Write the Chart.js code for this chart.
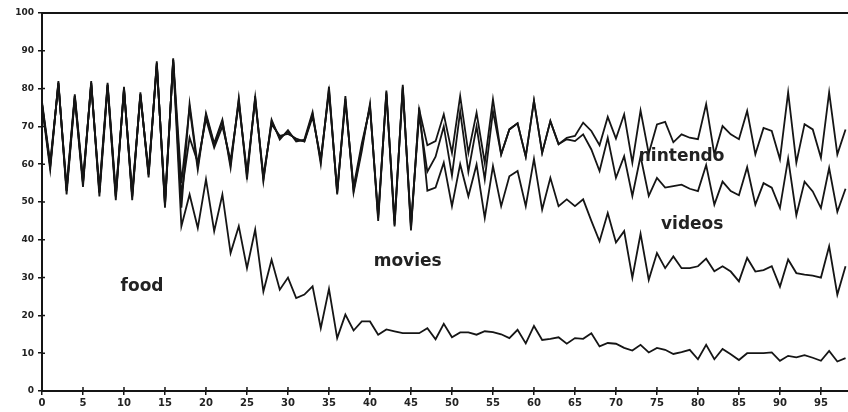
<!DOCTYPE html>
<html>
<head>
<meta charset="utf-8">
<script src="https://cdn.jsdelivr.net/npm/chart.js@4.4.1/dist/chart.umd.min.js"></script>
<style>
  html, body { margin: 0; background: #fff; }
  #wrap { width: 848px; height: 412px; }
</style>
</head>
<body>
<div id="wrap"><canvas id="chart"></canvas></div>
<script>
// sessions 0..98
const sessions = Array.from({ length: 99 }, (_, i) => i);

const food = [
  76, 59.5, 81.5, 53, 78, 55, 81.5, 52.5, 81, 51.5, 80, 51.5, 78.5, 57.3, 86.7, 49.3, 87.6,
  43.6, 52, 43.1, 56, 42.3, 52, 36.5, 43.6, 32.5, 42.7, 26.3, 34.7, 26.8, 30,
  24.6, 25.5, 27.7, 16.6, 27, 14, 20.2, 16, 18.4, 18.4,
  14.9, 16.3, 15.8, 15.3, 15.3, 15.3, 16.6, 13.7, 17.8, 14.2,
  15.5, 15.5, 14.9, 15.8, 15.6, 15, 14, 16.2, 12.6, 17.2,
  13.5, 13.8, 14.2, 12.5, 14, 13.8, 15.3, 11.8, 12.7, 12.5,
  11.4, 10.7, 12.2, 10.2, 11.4, 10.9, 9.8, 10.3, 10.9, 8.4,
  12.2, 8.4, 11.1, 9.7, 8.2, 10, 10, 10, 10.2, 8,
  9.3, 8.9, 9.5, 8.8, 8, 10.6, 7.8, 8.7
];

const nintendo = [
  76, 59.5, 81.5, 53, 78, 55, 81.5, 52.5, 81, 51.5, 80, 51.5, 78.5, 57.3, 86.7, 49.3, 87.6,
  48.5, 76, 59.5, 73, 65, 71.3, 60, 77, 57, 77.6, 56, 71.3, 67, 68.5, 66.4, 66.1, 73.2,
  60.8, 79.8, 52.4, 77.3, 53, 64.5, 75.4, 45.8, 79, 44, 80.5, 43.1, 74.5, 65,
  66.1, 73.2, 63, 78, 63, 73.6, 60.4, 77.2, 62.6, 69.2, 70.8, 62, 76.8, 63, 71.4,
  65.3, 67, 67.5, 71, 68.8, 65, 72.5, 66.8, 73.2, 60.4, 74.2, 62.8,
  70.5, 71.2, 65.8, 67.9, 67, 66.6, 75.9, 62.6, 70.1, 67.9, 66.6, 74.1,
  62.6, 69.6, 68.8, 61.3, 79, 60.4, 70.6, 69.2, 61.7, 79, 62.6, 69.2
];

const videos = [
  76.5, 60.5, 81, 54, 78.5, 56, 81, 53.5, 81.5, 52.5, 79.5, 52.5, 78, 58, 86, 50.5, 87,
  52, 67, 60.5, 72, 64.4, 70, 61, 76, 58, 77, 57, 70.5, 67.5, 68, 66.8, 66, 72.5,
  61.5, 79, 53, 76.5, 54, 65.5, 75, 46.5, 78.5, 45, 80, 44, 73, 58,
  62, 70, 57, 74, 58, 70, 56, 74, 62.6, 69.2, 70.8, 62, 76.8, 63, 71.4, 65.3,
  66.6, 66.1, 67.9, 63.9, 58.2, 67, 56.4, 62.1, 51.6, 62.1, 51.6, 56.4,
  53.8, 54.2, 54.6, 53.5, 52.9, 59.8, 49.3, 55.4, 52.9, 51.8, 59.2, 49.3,
  55, 53.8, 48.4, 61.5, 46.5, 55.4, 52.8, 48.4, 59, 47.4, 53.5
];

const movies = [
  75.5, 58.5, 82, 52, 77.5, 54, 82, 51.5, 80.5, 50.5, 80.5, 50.5, 79, 56.5, 87.2, 48.5, 88,
  55, 75, 58.5, 73.5, 65.5, 71.8, 59, 77.5, 56, 78, 55.5, 71.8, 66.5, 69, 66, 66.5, 73.8,
  60, 80.5, 52, 78, 52.5, 63.5, 76, 45, 79.5, 43.5, 81, 42.5, 75, 53,
  53.8, 60.4, 48.9, 60, 51.5, 59.9, 45.8, 59.5, 48.9, 56.8, 58.2, 48.9, 61.4, 48, 56.4, 48.9,
  50.7, 48.9, 50.7, 45, 39.6, 47.1, 39.3, 42.3, 30, 41.6, 29.4, 36.5,
  32.5, 35.6, 32.5, 32.5, 33, 35, 31.7, 33, 31.6, 29, 35.2, 31.6,
  32, 33, 27.6, 34.8, 31.2, 30.8, 30.5, 30, 38.3, 25.5, 33
];

const seriesLabels = [
  { text: "food", x: 12.2, y: 27.7 },
  { text: "movies", x: 44.6, y: 34.2 },
  { text: "nintendo", x: 78, y: 62 },
  { text: "videos", x: 79.3, y: 44 }
];

const ink = "#151515";

function toPoints(values) {
  return sessions.map((s, i) => ({ x: s, y: values[i] }));
}

const decorations = {
  id: "decorations",
  afterDatasetsDraw(chart) {
    const { ctx, chartArea, scales } = chart;
    const x = scales.x, y = scales.y;
    ctx.save();
    ctx.strokeStyle = ink;
    // top frame line at 100
    ctx.lineWidth = 2;
    ctx.beginPath();
    ctx.moveTo(chartArea.left, y.getPixelForValue(100));
    ctx.lineTo(chartArea.right, y.getPixelForValue(100));
    ctx.stroke();
    // tick marks crossing into the plot
    ctx.lineWidth = 1.5;
    ctx.beginPath();
    x.ticks.forEach((t) => {
      const px = x.getPixelForValue(t.value);
      ctx.moveTo(px, chartArea.bottom);
      ctx.lineTo(px, chartArea.bottom - 4);
    });
    y.ticks.forEach((t) => {
      const py = y.getPixelForValue(t.value);
      ctx.moveTo(chartArea.left, py);
      ctx.lineTo(chartArea.left + 3, py);
    });
    ctx.stroke();
    // series names
    ctx.font = 'bold 17px "DejaVu Sans"';
    ctx.fillStyle = "#222";
    ctx.textAlign = "center";
    ctx.textBaseline = "middle";
    seriesLabels.forEach((l) => {
      ctx.fillText(l.text, x.getPixelForValue(l.x), y.getPixelForValue(l.y));
    });
    ctx.restore();
  }
};

function lineSet(label, values) {
  return {
    label,
    data: toPoints(values),
    borderColor: ink,
    borderWidth: 1.8,
    pointRadius: 0,
    tension: 0,
    fill: false
  };
}

new Chart(document.getElementById("chart"), {
  type: "line",
  data: {
    datasets: [
      lineSet("food", food),
      lineSet("movies", movies),
      lineSet("nintendo", nintendo),
      lineSet("videos", videos)
    ]
  },
  options: {
    responsive: true,
    maintainAspectRatio: false,
    animation: false,
    layout: { padding: { top: 13, right: 0, left: 0, bottom: 0 } },
    plugins: {
      legend: { display: false },
      tooltip: { enabled: false }
    },
    scales: {
      x: {
        type: "linear",
        min: 0,
        max: 98.3,
        afterFit(scale) { scale.height = 21; },
        border: { display: true, color: ink, width: 2 },
        grid: { drawOnChartArea: false, tickLength: 4, color: ink, lineWidth: 1.5 },
        ticks: {
          stepSize: 5,
          includeBounds: false,
          autoSkip: false,
          maxRotation: 0,
          padding: 2,
          color: "#222",
          font: { family: "DejaVu Sans", size: 10, weight: "bold" }
        }
      },
      y: {
        min: 0,
        max: 100,
        afterFit(scale) { scale.width = 42; },
        border: { display: true, color: ink, width: 2 },
        grid: { drawOnChartArea: false, tickLength: 4, color: ink, lineWidth: 1.5 },
        ticks: {
          stepSize: 10,
          padding: 4,
          color: "#222",
          font: { family: "DejaVu Sans", size: 9, weight: "bold" }
        }
      }
    }
  },
  plugins: [decorations]
});
</script>
</body>
</html>
